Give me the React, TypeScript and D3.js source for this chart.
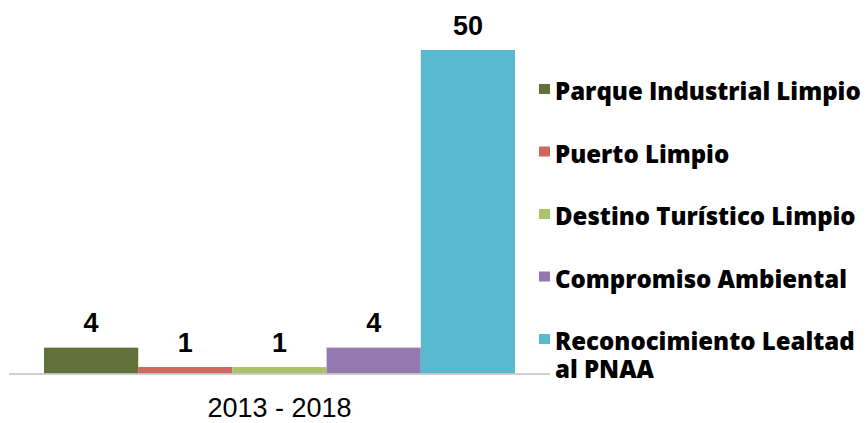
import React from "react";
import * as d3 from "d3";

const category = "2013 - 2018";
const seriesNames = [
  "Parque Industrial Limpio",
  "Puerto Limpio",
  "Destino Turístico Limpio",
  "Compromiso Ambiental",
  "Reconocimiento Lealtad al PNAA",
];
const legendLines = [
  ["Parque Industrial Limpio"],
  ["Puerto Limpio"],
  ["Destino Turístico Limpio"],
  ["Compromiso Ambiental"],
  ["Reconocimiento Lealtad", "al PNAA"],
];
const values = [4, 1, 1, 4, 50];
const colors = ["#60723a", "#cf6760", "#a9c46a", "#9479b0", "#58b9d0"];

const W = 868;
const H = 423;

export default function App() {
  const x = d3.scaleBand<string>().domain(seriesNames).range([44, 515]).padding(0);
  const y = d3.scaleLinear().domain([0, 50]).range([373.5, 50]);
  const legendY = d3.scaleLinear().domain([0, 4]).range([100, 350]);

  return (
    <svg
      width={W}
      height={H}
      style={{ position: "absolute", left: 0, top: 0, background: "#fff" }}
    >
      {seriesNames.map((s, i) => (
        <rect
          key={s}
          x={x(s)}
          y={y(values[i])}
          width={x.bandwidth()}
          height={y(0) - y(values[i])}
          fill={colors[i]}
        />
      ))}
      <line x1={9} x2={550} y1={374} y2={374} stroke="#bfbfbf" strokeWidth={1.5} />
      {seriesNames.map((s, i) => (
        <text
          key={"v" + s}
          x={(x(s) as number) + x.bandwidth() / 2}
          y={y(values[i]) - 15.5}
          textAnchor="middle"
          fontFamily="'Liberation Sans', Arial, sans-serif"
          fontWeight="bold"
          fontSize={27}
          fill="#000"
        >
          {values[i]}
        </text>
      ))}
      <text
        x={(44 + 515) / 2}
        y={417}
        textAnchor="middle"
        fontFamily="'Liberation Sans', Arial, sans-serif"
        fontSize={27}
        fill="#000"
      >
        {category}
      </text>
      {legendLines.map((lines, i) => (
        <g key={"l" + i}>
          <rect x={539} y={legendY(i) - 16} width={11} height={10} fill={colors[i]} />
          {lines.map((ln, j) => (
            <text
              key={j}
              x={555}
              y={legendY(i) + j * 28}
              fontFamily="'Open Sans', sans-serif"
              fontWeight={800}
              fontSize={24}
              fill="#000"
            >
              {ln}
            </text>
          ))}
        </g>
      ))}
    </svg>
  );
}
